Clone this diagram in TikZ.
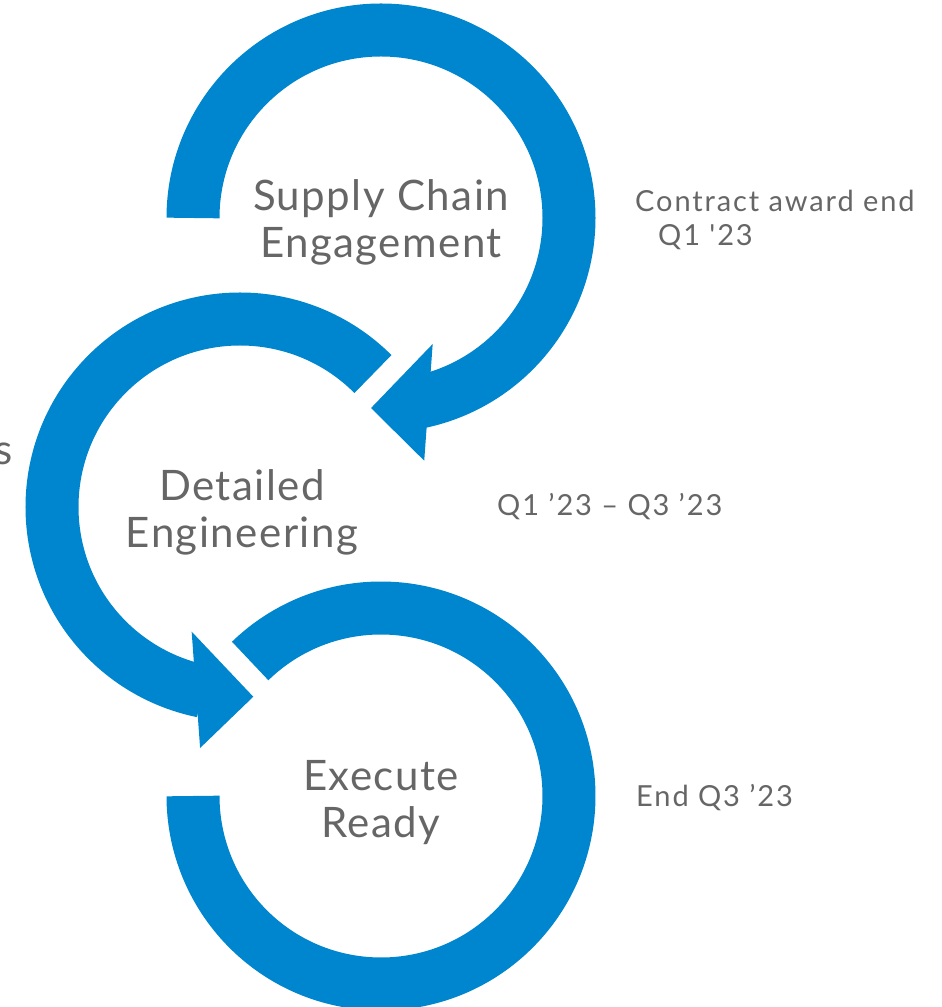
\documentclass[tikz,border=0pt]{standalone}
\usepackage{fontspec}
\setmainfont{Lato}[Ligatures=TeXOff]
\usepackage{tikz}
\usetikzlibrary{calc}
\definecolor{ringblue}{HTML}{0086CE}
\definecolor{labelgray}{HTML}{666666}
\tikzstyle{band} = [draw=ringblue, line width=53pt]
\tikzstyle{tip} = [fill=ringblue]
\tikzstyle{stage} = [text=labelgray, align=center, inner sep=0pt, font=\fontsize{42}{47}\selectfont\addfontfeature{LetterSpace=3.5}]
\tikzstyle{when} = [text=labelgray, align=left, inner sep=0pt, font=\fontsize{29}{34}\selectfont\addfontfeature{LetterSpace=6.5}]

\begin{document}
\begin{tikzpicture}[x=1pt,y=1pt]

\useasboundingbox (0,0) rectangle (942,1007);

\coordinate (T) at (381,789);
\coordinate (M) at (240,500);
\coordinate (B) at (381,211);

% rings
\draw [band] ($(T)+(180:188)$) arc [start angle=180, end angle=-79, radius=188];
\draw [band] ($(M)+(45:188)$) arc [start angle=45, end angle=258.5, radius=188];
\draw [band] ($(B)+(134.1:188)$) arc [start angle=134.1, end angle=-180, radius=188];

% arrow heads
\fill [tip] ($(T)+(-67.7:136.2)$) -- ($(T)+(-93:190.3)$) -- ($(T)+(-79.9:246.5)$) -- cycle;
\fill [tip] ($(M)+(-111.2:133.7)$) -- ($(M)+(-86:190.2)$) -- ($(M)+(-99.4:244.3)$) -- cycle;

\node (supply) [stage] at (381,785) {Supply Chain\\Engagement};
\node (detail) [stage] at (242,495) {Detailed\\Engineering};
\node (execute) [stage] at (381,204) {Execute\\Ready};

\node (cut) [stage, anchor=base east] at (13,542) {s};

\node (award) [when, anchor=north west] at (635,817) {Contract award end\\\hspace*{23pt}Q1 '23};
\node (design) [when, anchor=base west] at (497,491) {Q1 ’23 – Q3 ’23};
\node (ready) [when, anchor=base west] at (636,200) {End Q3 ’23};

\end{tikzpicture}
\end{document}
